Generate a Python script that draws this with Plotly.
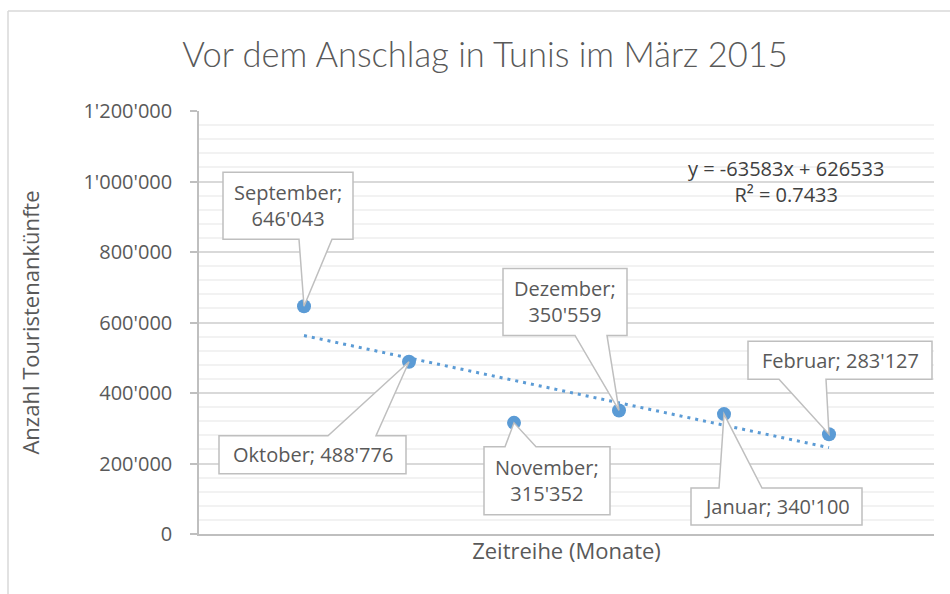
import plotly.graph_objects as go

# ---- data ----
months = ["September", "Oktober", "November", "Dezember", "Januar", "Februar"]
month_index = [1, 2, 3, 4, 5, 6]
arrivals = [646043, 488776, 315352, 350559, 340100, 283127]
label_values = ["646'043", "488'776", "315'352", "350'559", "340'100", "283'127"]
trend_slope = -63583
trend_intercept = 626533
r_squared = "0.7433"
y_tick_values = [0, 200000, 400000, 600000, 800000, 1000000, 1200000]
y_tick_labels = ["0", "200'000", "400'000", "600'000", "800'000", "1'000'000", "1'200'000"]

# ---- layout geometry (pixels) ----
W, H = 950, 594
ML, MR, MT, MB = 199, 16, 111, 60
XR = [0, 7]
YR = [0, 1200000]
PW = W - ML - MR
PH = H - MT - MB

def dx(px):  # pixel length -> data x length
    return px / PW * (XR[1] - XR[0])

def dy(py):  # pixel length (downwards) -> data y length (negative)
    return -py / PH * (YR[1] - YR[0])

# callout boxes relative to the point (pixels: left, right, top, bottom offsets; wedge base offsets)
callouts = [
    dict(l=-81, r=49, t=-134, b=-67, w0=-5, w1=28, side="b", two=True),
    dict(l=-190, r=-3, t=74, b=112, w0=-81, w1=-33, side="t", two=False),
    dict(l=-30, r=96, t=24, b=92, w0=-9, w1=22, side="t", two=True),
    dict(l=-116, r=8, t=-142, b=-75, w0=-44, w1=-12, side="b", two=True),
    dict(l=-33, r=138, t=74, b=111, w0=-5, w1=38, side="t", two=False),
    dict(l=-81, r=103, t=-93, b=-55, w0=-50, w1=-3, side="b", two=False),
]

TXT = "#595959"
fig = go.Figure()

trend_x = [month_index[0], month_index[-1]]
trend_y = [trend_slope * v + trend_intercept for v in trend_x]
fig.add_trace(go.Scatter(x=trend_x, y=trend_y, mode="lines",
                         line=dict(color="#5B9BD5", width=3, dash="3px,5px"),
                         hoverinfo="skip", showlegend=False))
fig.add_trace(go.Scatter(x=month_index, y=arrivals, mode="markers",
                         marker=dict(color="#5B9BD5", size=14, line=dict(width=0)),
                         showlegend=False))

shapes = []
annotations = []
for m, xi, yv, lab, c in zip(months, month_index, arrivals, label_values, callouts):
    L, R = xi + dx(c["l"]), xi + dx(c["r"])
    T, B = yv + dy(c["t"]), yv + dy(c["b"])
    w0, w1 = xi + dx(c["w0"]), xi + dx(c["w1"])
    if c["side"] == "b":
        path = f"M{L},{T} L{R},{T} L{R},{B} L{w1},{B} L{xi},{yv} L{w0},{B} L{L},{B} Z"
    else:
        path = f"M{L},{T} L{w0},{T} L{xi},{yv} L{w1},{T} L{R},{T} L{R},{B} L{L},{B} Z"
    shapes.append(dict(type="path", path=path, xref="x", yref="y",
                       fillcolor="white", line=dict(color="#BFBFBF", width=1.5),
                       layer="above"))
    text = f"{m};<br>{lab}" if c["two"] else f"{m}; {lab}"
    annotations.append(dict(x=(L + R) / 2, y=(T + B) / 2, xref="x", yref="y",
                            text=text, showarrow=False,
                            font=dict(family="Open Sans", size=20, color=TXT),
                            xanchor="center", yanchor="middle"))

# trendline equation
annotations.append(dict(x=(786 - ML) / PW, y=(534 - 181) / PH, xref="paper", yref="paper",
                        text=f"y = {trend_slope}x + {trend_intercept}<br>R² = {r_squared}",
                        showarrow=False, align="center",
                        font=dict(family="Open Sans", size=20, color="#404040"),
                        xanchor="center", yanchor="middle"))

# outer chart frame
fx = (8 - ML) / PW
fy_top = (H - MB - 11) / PH
shapes.append(dict(type="line", xref="paper", yref="paper", x0=fx, x1=(W - ML + 5) / PW,
                   y0=fy_top, y1=fy_top, line=dict(color="#D9D9D9", width=1.5)))
shapes.append(dict(type="line", xref="paper", yref="paper", x0=fx, x1=fx,
                   y0=fy_top, y1=-(MB + 5) / PH, line=dict(color="#D9D9D9", width=1.5)))

fig.update_layout(
    width=W, height=H,
    margin=dict(l=ML, r=MR, t=MT, b=MB),
    paper_bgcolor="white", plot_bgcolor="white",
    title=dict(text="Vor dem Anschlag in Tunis im März 2015",
               font=dict(family="Lato", size=34.5, color=TXT, weight=300),
               x=485 / W, xanchor="center", y=1 - 55 / H, yanchor="middle"),
    xaxis=dict(range=XR, showticklabels=False, showgrid=False, zeroline=False,
               showline=True, linecolor="#BFBFBF", linewidth=1.5, ticks="",
               title=dict(text="Zeitreihe (Monate)", standoff=9,
                          font=dict(family="Open Sans", size=22, color=TXT))),
    yaxis=dict(range=YR, tickvals=y_tick_values, ticktext=y_tick_labels,
               showgrid=True, gridcolor="#D9D9D9", gridwidth=1.5, zeroline=False,
               showline=True, linecolor="#BFBFBF", linewidth=1.5,
               ticks="outside", ticklen=7, tickcolor="#BFBFBF", tickwidth=1.5,
               ticklabelstandoff=14,
               minor=dict(dtick=40000, showgrid=True, gridcolor="#F2F2F2", gridwidth=1.5),
               tickfont=dict(family="Open Sans", size=20, color=TXT),
               title=dict(text="Anzahl Touristenankünfte", standoff=38,
                          font=dict(family="Open Sans", size=22, color=TXT))),
    shapes=shapes, annotations=annotations,
)

fig.write_html("out.html", config={"displayModeBar": False},
               post_script="document.body.style.margin='0';")
